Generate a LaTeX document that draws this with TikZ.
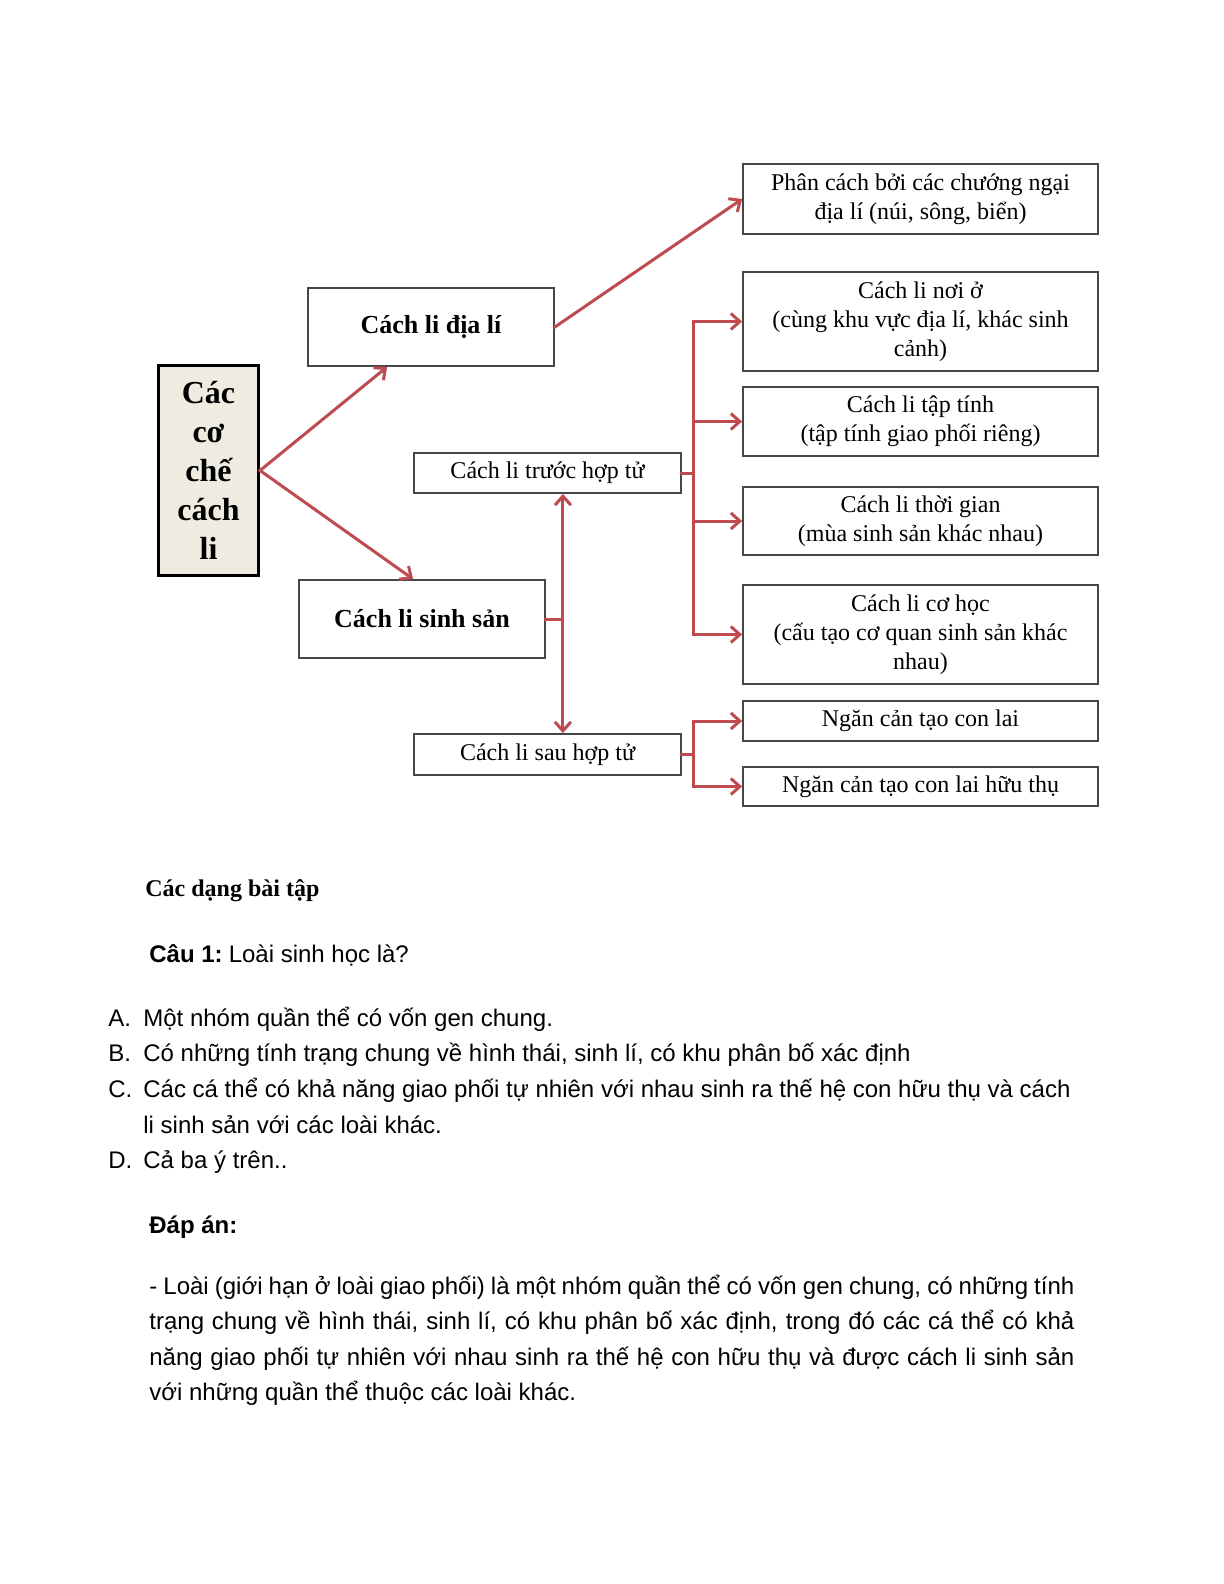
\documentclass[tikz,border=0pt]{standalone}
\usepackage{fontspec}
\setmainfont{Liberation Serif}
\newfontfamily\arialfont{Liberation Sans}
\usetikzlibrary{arrows.meta,calc}
\definecolor{linkred}{RGB}{190,75,80}
\definecolor{rootfill}{RGB}{238,236,225}
\definecolor{boxline}{RGB}{70,70,70}

\begin{document}
\begin{tikzpicture}[x=0.5pt, y=-0.5pt,
	box/.style={draw=boxline, line width=0.9pt, fill=white, align=center, inner sep=1pt,
		font=\fontsize{12}{14.5}\selectfont},
	bigbox/.style={box, minimum width=123pt, minimum height=39pt, font=\bfseries\fontsize{13}{15}\selectfont},
	rbox/.style={box, minimum width=177.5pt},
	link/.style={draw=linkred, line width=1.5pt, line cap=rect},
	>={Straight Barb[length=4.5pt,width=8pt]},
	body/.style={anchor=base west, inner sep=0pt, font=\arialfont\fontsize{12}{17.75}\selectfont}]
	 \useasboundingbox (0,0) rectangle (1224,1584);
	 \fill[white] (0,0) rectangle (1224,1584);
	 
	 % left side
	 \node[box, draw=black, line width=1.5pt, fill=rootfill, minimum width=50pt, minimum height=105pt,
	 font=\bfseries\fontsize{16}{19.5}\selectfont] (root) at (208.5,470.5) {Các\\cơ\\chế\\cách\\li};
	 \node[bigbox] (dialy) at (431,327) {Cách li địa lí};
	 \node[bigbox] (sinhsan) at (422,619) {Cách li sinh sản};
	 \node[box, minimum width=133.5pt, minimum height=20pt] (truoc) at (547.5,473) {Cách li trước hợp tử};
	 \node[box, minimum width=133.5pt, minimum height=20.5pt] (sau) at (547.5,754.5) {Cách li sau hợp tử};
	 
	 % right side
	 \node[rbox, minimum height=35pt] (phancach) at (920.5,199) {Phân cách bởi các chướng ngại\\địa lí (núi, sông, biển)};
	 \node[rbox, minimum height=49.5pt] (noio) at (920.5,321.5) {Cách li nơi ở\\(cùng khu vực địa lí, khác sinh\\cảnh)};
	 \node[rbox, minimum height=34.5pt] (taptinh) at (920.5,421.5) {Cách li tập tính\\(tập tính giao phối riêng)};
	 \node[rbox, minimum height=34pt] (thoigian) at (920.5,521) {Cách li thời gian\\(mùa sinh sản khác nhau)};
	 \node[rbox, minimum height=49.5pt] (cohoc) at (920.5,634.5) {Cách li cơ học\\(cấu tạo cơ quan sinh sản khác\\nhau)};
	 \node[rbox, minimum height=20pt] (conlai) at (920.5,721) {Ngăn cản tạo con lai};
	 \node[rbox, minimum height=19.5pt] (huuthu) at (920.5,786.5) {Ngăn cản tạo con lai hữu thụ};
	 
	 % connectors
	 \draw[link, ->] (root.east) -- ($(dialy.south west)+(80,0)$);
	 \draw[link, ->] (root.east) -- ($(sinhsan.north west)+(115,0)$);
	 \draw[link, ->] (dialy.east) -- (phancach.west);
	 
	 \coordinate (tb) at ($(truoc.east)+(12,0)$);
	 \draw[link] (truoc.east) -- (tb);
	 \draw[link] (tb |- noio.west) -- (tb |- cohoc.west);
	 \foreach \n in {noio, taptinh, thoigian, cohoc}
	 \draw[link, ->] (tb |- \n.west) -- (\n.west);
	 
	 \coordinate (sb) at ($(sinhsan.east)+(17,0)$);
	 \draw[link] (sinhsan.east) -- (sb);
	 \draw[link, <->] (sb |- truoc.south) -- (sb |- sau.north);
	 
	 \coordinate (ab) at ($(sau.east)+(12,0)$);
	 \draw[link] (sau.east) -- (ab);
	 \draw[link] (ab |- conlai.west) -- (ab |- huuthu.west);
	 \foreach \n in {conlai, huuthu}
	 \draw[link, ->] (ab |- \n.west) -- (\n.west);
	 
	 % text below
	 \node[anchor=base west, inner sep=0pt, font=\bfseries\fontsize{12}{14}\selectfont] (dang) at (145,896) {Các dạng bài tập};
	 \node[body] (cau) at (149,962) {\textbf{Câu 1:}\hspace{0.25em}Loài sinh học là?};
	 \node[body] (lblA) at (108,1026) {A.};
	 \node[body] (optA) at (143,1026) {Một nhóm quần thể có vốn gen chung.};
	 \node[body] (lblB) at (108,1061) {B.};
	 \node[body] (optB) at (143,1061) {Có những tính trạng chung về hình thái, sinh lí, có khu phân bố xác định};
	 \node[body] (lblC) at (108,1097) {C.};
	 \node[body] (optC) at (143,1097) {Các cá thể có khả năng giao phối tự nhiên với nhau sinh ra thế hệ con hữu thụ và cách};
	 \node[body] (optCb) at (143,1133) {li sinh sản với các loài khác.};
	 \node[body] (lblD) at (108,1168) {D.};
	 \node[body] (optD) at (143,1168) {Cả ba ý trên..};
	 
	 \node[body, font=\arialfont\bfseries\fontsize{12}{14}\selectfont] (dapan) at (149,1233) {Đáp án:};
	 \node[body] (ans1) at (149,1294) {\makebox[462.5pt][s]{- Loài (giới hạn ở loài giao phối) là một nhóm quần thể có vốn gen chung, có những tính}};
	 \node[body] (ans2) at (149,1329.5) {\makebox[462.5pt][s]{trạng chung về hình thái, sinh lí, có khu phân bố xác định, trong đó các cá thể có khả}};
	 \node[body] (ans3) at (149,1365) {\makebox[462.5pt][s]{năng giao phối tự nhiên với nhau sinh ra thế hệ con hữu thụ và được cách li sinh sản}};
	 \node[body] (ans4) at (149,1400.5) {với những quần thể thuộc các loài khác.};
\end{tikzpicture}
\end{document}
